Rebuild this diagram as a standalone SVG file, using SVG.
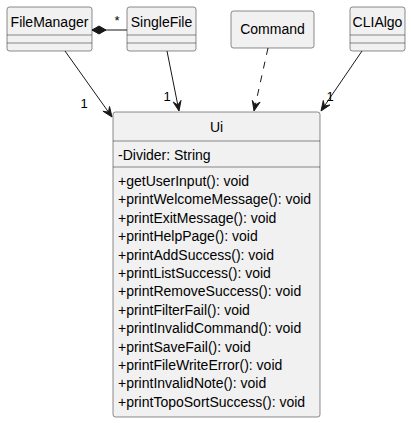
<svg xmlns="http://www.w3.org/2000/svg" width="411" height="423" viewBox="0 0 411 423">
<style>
.box{fill:#F1F1F1;stroke:#181818;stroke-width:0.5}
.sep{stroke:#181818;stroke-width:0.5}
.t{font-family:"Liberation Sans",Arial,sans-serif;font-size:14px;fill:#000000}
.c{text-anchor:middle}
.lbl{font-family:"Liberation Sans",Arial,sans-serif;font-size:13px;fill:#000000;text-anchor:middle}
.ln{stroke:#181818;stroke-width:1;fill:none}
.dash{stroke-dasharray:7,7}
.head{fill:#181818;stroke:#181818;stroke-width:1}
</style>
<rect width="411" height="423" fill="#FFFFFF"/>
<g id="connectors">
<line class="ln" x1="92" y1="30" x2="127" y2="30"/>
<polygon class="head" points="92,30 99,26 106,30 99,34"/>
<text class="lbl" x="117" y="25">*</text>
<line class="ln" x1="65" y1="51" x2="108.5" y2="112.1"/>
<polygon class="head" points="112,117 102.9,111.2 108.5,112.1 109.5,106.5"/>
<text class="lbl" x="84" y="108">1</text>
<line class="ln" x1="167" y1="51" x2="177.8" y2="105.1"/>
<polygon class="head" points="179,111 173.1,102 177.8,105.1 181,100.4"/>
<text class="lbl" x="167" y="101">1</text>
<line class="ln dash" x1="268" y1="48" x2="255.3" y2="105.1"/>
<polygon class="head" points="254,111 252.3,100.4 255.3,105.1 260.1,102.1"/>
<line class="ln" x1="362" y1="51" x2="324.4" y2="106"/>
<polygon class="head" points="321,111 323.3,100.5 324.4,106 329.9,105"/>
<text class="lbl" x="330" y="101">1</text>
</g>
<g id="FileManager">
<rect class="box" x="7" y="7" width="85" height="44" rx="2.5"/>
<line class="sep" x1="7" y1="35" x2="92" y2="35"/>
<line class="sep" x1="7" y1="43" x2="92" y2="43"/>
<text class="t c" x="49.5" y="27">FileManager</text>
</g>
<g id="SingleFile">
<rect class="box" x="127" y="7" width="69" height="44" rx="2.5"/>
<line class="sep" x1="127" y1="35" x2="196" y2="35"/>
<line class="sep" x1="127" y1="43" x2="196" y2="43"/>
<text class="t c" x="161.5" y="27">SingleFile</text>
</g>
<g id="Command">
<rect class="box" x="231" y="11" width="83" height="37" rx="2.5"/>
<text class="t c" x="272.5" y="34">Command</text>
</g>
<g id="CLIAlgo">
<rect class="box" x="350" y="7" width="55" height="44" rx="2.5"/>
<line class="sep" x1="350" y1="35" x2="405" y2="35"/>
<line class="sep" x1="350" y1="43" x2="405" y2="43"/>
<text class="t c" x="377.5" y="27">CLIAlgo</text>
</g>
<g id="Ui">
<rect class="box" x="113" y="112" width="207" height="305" rx="2.5"/>
<line class="sep" x1="113" y1="141" x2="320" y2="141"/>
<line class="sep" x1="113" y1="167" x2="320" y2="167"/>
<text class="t c" x="216.5" y="132">Ui</text>
<text class="t" x="118" y="160">-Divider: String</text>
<text class="t" x="118" y="186">+getUserInput(): void</text>
<text class="t" x="118" y="204.4">+printWelcomeMessage(): void</text>
<text class="t" x="118" y="222.8">+printExitMessage(): void</text>
<text class="t" x="118" y="241.2">+printHelpPage(): void</text>
<text class="t" x="118" y="259.6">+printAddSuccess(): void</text>
<text class="t" x="118" y="278">+printListSuccess(): void</text>
<text class="t" x="118" y="296.4">+printRemoveSuccess(): void</text>
<text class="t" x="118" y="314.8">+printFilterFail(): void</text>
<text class="t" x="118" y="333.2">+printInvalidCommand(): void</text>
<text class="t" x="118" y="351.6">+printSaveFail(): void</text>
<text class="t" x="118" y="370">+printFileWriteError(): void</text>
<text class="t" x="118" y="388.4">+printInvalidNote(): void</text>
<text class="t" x="118" y="406.8">+printTopoSortSuccess(): void</text>
</g>
</svg>
